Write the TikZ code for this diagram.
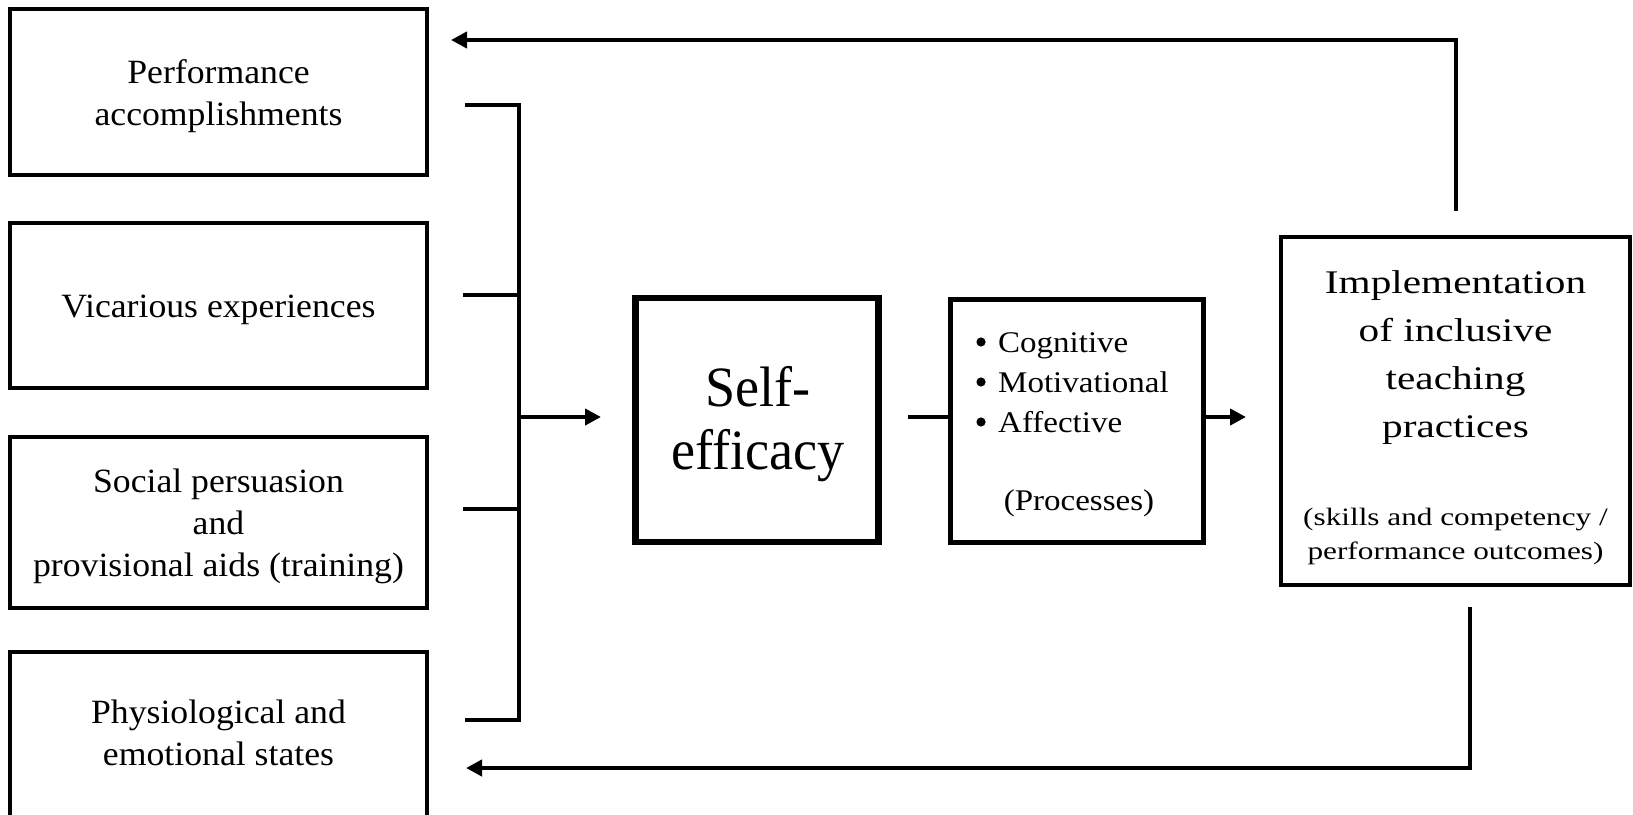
\documentclass[tikz,border=0pt]{standalone}
\usepackage{fontspec}
\setmainfont{Liberation Serif}
\newfontfamily\leftfont[FakeStretch=1.05]{Liberation Serif}
\newfontfamily\selffont[FakeStretch=0.95]{Liberation Serif}
\newfontfamily\procfont[FakeStretch=1.1]{Liberation Serif}
\newfontfamily\implfont[FakeStretch=1.25]{Liberation Serif}
\usetikzlibrary{arrows.meta}
\begin{document}
\begin{tikzpicture}[x=1pt,y=-1pt,
  srcbox/.style={draw, line width=4pt, inner sep=0pt, minimum width=417pt},
  conn/.style={line width=4pt},
  arr/.style={conn, -{Triangle[length=16pt,width=16pt]}},
  bulletdot/.style={fill=black},
  lefttext/.style={font=\leftfont\fontsize{34}{42}\selectfont, align=center, inner sep=0pt},
  proctext/.style={font=\procfont\fontsize{30}{40}\selectfont, inner sep=0pt},
  impltext/.style={font=\implfont\fontsize{33}{48}\selectfont, align=center, inner sep=0pt},
  subtext/.style={font=\implfont\fontsize{25}{34}\selectfont, align=center, inner sep=0pt}
]
\useasboundingbox (0,0) rectangle (1633,814);
\fill[white] (0,0) rectangle (1633,814);

% source boxes
\node[srcbox, minimum height=166pt] (b1) at (218.5,91.5) {};
\node[srcbox, minimum height=165pt] (b2) at (218.5,305) {};
\node[srcbox, minimum height=171pt] (b3) at (218.5,522) {};
\node[srcbox, minimum height=165pt] (b4) at (218.5,734) {};

\node[lefttext, anchor=base] (t1) at (218.5,125) {Performance\\accomplishments};
\node[lefttext, anchor=base] (t2) at (218.5,317) {Vicarious experiences};
\node[lefttext, anchor=base] (t3) at (218.5,576) {Social persuasion\\and\\provisional aids (training)};
\node[lefttext, anchor=base] (t4) at (218.5,765) {Physiological and\\emotional states};

% self-efficacy
\node[draw, line width=6.5pt, inner sep=0pt, minimum width=243pt, minimum height=244pt] (self) at (757,420) {};
\node[font=\selffont\fontsize{57}{63}\selectfont, align=center, inner sep=0pt, anchor=base] (selft) at (758,469) {Self-\\efficacy};

% processes
\node[draw, line width=5pt, inner sep=0pt, minimum width=253pt, minimum height=243pt] (proc) at (1076.5,420.5) {};
\node[proctext, anchor=base west, align=left] (proct) at (998,432) {Cognitive\\Motivational\\Affective};
\node[proctext, anchor=base] (procl) at (1079,510) {(Processes)};
\fill[bulletdot] (981,342) circle (4.6);
\fill[bulletdot] (981,382) circle (4.6);
\fill[bulletdot] (981,422) circle (4.6);

% implementation
\node[draw, line width=4pt, inner sep=0pt, minimum width=349pt, minimum height=348pt] (impl) at (1455.5,411) {};
\node[impltext, anchor=base] (implt) at (1455.5,437) {Implementation\\of inclusive\\teaching\\practices};
\node[subtext, anchor=base] (impls) at (1455.5,559) {(skills and competency /\\performance outcomes)};

% bracket
\coordinate (s1) at (465,105);
\coordinate (s2) at (463,295);
\coordinate (s3) at (463,509);
\coordinate (s4) at (465,720);
\coordinate (j) at (519,417);
\coordinate (selfin) at (601,417);
\draw[conn] (s1) -- (s1 -| j) -- (s4 -| j) -- (s4);
\draw[conn] (s2) -- (s2 -| j);
\draw[conn] (s3) -- (s3 -| j);
\draw[arr] (j) -- (selfin);

% self to processes
\coordinate (pl) at (908,417);
\draw[conn] (pl) -- (pl -| proc.west);
\coordinate (implin) at (1246,417);
\draw[arr] (implin -| proc.east) -- (implin);

% feedback loops
\coordinate (ft) at (1456,211);
\coordinate (ftip) at (451,40);
\draw[arr] (ft) |- (ftip);
\coordinate (fb) at (1470,607);
\coordinate (fbtip) at (466,768);
\draw[arr] (fb) |- (fbtip);
\end{tikzpicture}
\end{document}
